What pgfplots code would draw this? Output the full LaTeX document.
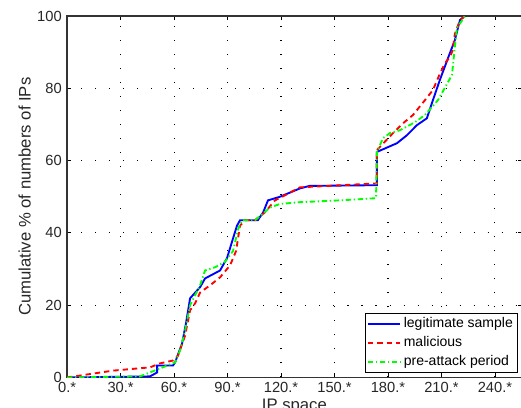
\documentclass[border=0pt]{standalone}
\usepackage{fontspec}
\setmainfont{Liberation Sans}
\usepackage{pgfplots}
\pgfplotsset{compat=1.18}
\begin{document}
\begin{tikzpicture}
\begin{axis}[
  scale only axis,
  width=340.5pt, height=270.75pt,
  xmin=0, xmax=255, ymin=0, ymax=100,
  xtick={0,30,60,90,120,150,180,210,240},
  xticklabels={0.*,30.*,60.*,90.*,120.*,150.*,180.*,210.*,240.*},
  ytick={0,20,40,60,80,100},
  tick align=inside,
  major tick length=3pt,
  tick style={black, line width=0.6pt},
  axis line style={black!80, line width=0.9pt},
  /pgf/number format/assume math mode=true,
  ticklabel style={font=\fontsize{11}{13}\selectfont, text=black!85},
  yticklabel style={xshift=-0.5pt},
  grid=major,
  major grid style={black, line width=0.8pt, dash pattern=on 0.8pt off 9.7pt},
  xlabel={IP space},
  ylabel={Cumulative \% of numbers of IPs},
  label style={font=\fontsize{12.5}{14}\selectfont, text=black!85},
  xlabel style={yshift=2pt},
  ylabel style={yshift=-2pt},
  legend style={at={(rel axis cs:0.992,0.013)}, anchor=south east, font=\fontsize{10.5}{11}\selectfont, draw=black, line width=0.7pt, inner sep=1.5pt, row sep=1pt, cells={anchor=west}},
  legend image post style={line width=1.4pt},
  legend image code/.code={\draw[#1] (0cm,0cm) -- (0.85cm,0cm);},
  legend cell align=left,
]
\addplot[blue, line width=1.4pt] coordinates {
(0,0) (46.5,0.3) (50.5,1.4) (50.5,3.3) (59.4,3.3) (60.6,4.2) (64.5,9.4) (66.7,15) (69,21.9) (74.6,25) (77.4,27.4) (85.8,29.6) (89.7,33) (93.1,38.5) (95.3,42) (97,43.5) (107,43.5) (110,45.7) (112.7,49) (119.4,50) (130.6,52.3) (136,53) (173.8,53.2) (173.8,62.4) (185,64.8) (190.6,67) (196.2,69.8) (201.8,71.7) (205.2,76.7) (209.1,82.3) (214.7,89.7) (217.5,93.3) (220.4,98.9) (223.2,100)
};
\addlegendentry{legitimate sample}
\addplot[red, line width=1.4pt, dash pattern=on 4pt off 3pt] coordinates {
(0,0) (25.8,1.9) (46.5,2.8) (52.1,3.9) (59.4,4.7) (62.2,6) (66.2,11.6) (69,18.6) (71.8,20.5) (74.6,23.5) (80.2,25.5) (85.8,27.7) (91.4,31) (94.8,35) (97,42) (99.8,43.5) (105.4,43.5) (111,45.7) (116.6,49) (122.2,50.4) (130.6,52.6) (173.8,53.7) (173.8,62.9) (182.8,67.6) (188.4,70.3) (194,72.6) (200.7,76.7) (205.2,79.5) (209.1,84) (212,87) (214.7,88.6) (216.4,90.6) (217.5,95) (220.4,98.9) (223.2,100)
};
\addlegendentry{malicious}
\addplot[green, line width=1.4pt, dash pattern=on 4pt off 2pt on 1pt off 2pt] coordinates {
(0,0) (40.9,0.3) (46.5,1.4) (52.1,2.5) (60.6,4.2) (63.4,7.5) (66.2,13) (69,20) (74.6,25.5) (77.4,29.6) (83,30.5) (88.6,32) (93.1,35) (95.9,41) (98.1,43.5) (105.4,43.5) (113.8,47) (119.4,48) (130.6,48.5) (153.1,49) (173.3,49.6) (173.8,62.4) (177.2,66.2) (181.1,67.6) (186.7,68.4) (195.1,70.6) (200.7,72.6) (208,76.7) (210.3,78.7) (215.9,83.7) (216.4,86) (217.5,91.4) (218.7,96.7) (223.2,100)
};
\addlegendentry{pre-attack period}
\end{axis}
\pgfresetboundingbox
\path (-50.25pt,-22.5pt) rectangle (340pt,282.75pt);
\end{tikzpicture}
\end{document}
